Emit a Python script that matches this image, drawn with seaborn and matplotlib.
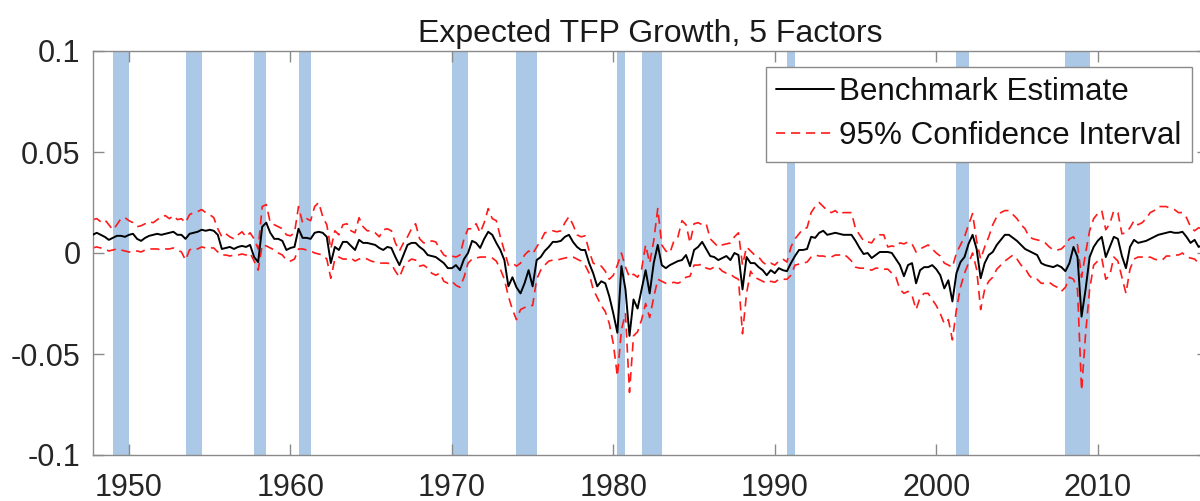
import numpy as np
import pandas as pd
import matplotlib
matplotlib.use("Agg")
import matplotlib.pyplot as plt
import seaborn as sns

# ---- data (in thousandths) ----
start_year = 1947.75  # first quarter shown
bench = [
    9, 10, 9, 8, 6.5, 7.5, 8.5, 8.5, 8, 9, 9.5, 7, 6, 7.5, 8.5, 9, 9.5, 9, 9.5, 10, 10.5,
    9, 9, 7, 9.5, 10, 10.5, 11.5, 11, 11.5, 11, 9, 2, 2.5, 3, 2, 3, 3.5, 3, 4, -2, -4.5,
    13, 15, 10, 7, 7, 6, 1.5, 2.5, 3, 12, 7.5, 7.5, 7, 10, 10.5, 10, 8, -5, 3, 1.5, 5.5,
    5.5, 3.5, 1.5, 6.5, 5, 5, 4.5, 4, 2.5, 1.5, 3, 2.5, -2, -6, -1, 4, 5, 5, 3, 1.5, -1,
    -1.5, -2, -3.5, -5, -7.5, -7.5, -6, -8.5, -3, 0, 6, 5, 2.5, 7, 10.5, 9, 5, 1.5, -3.5,
    -16.5, -12, -17, -20, -15, -8.5, -16.5, -3.5, -2, 1, 3, 5.5, 5.5, 6, 8, 9, 5.5, 3,
    1.5, 1.5, -5, -10, -16.5, -14, -15, -21.5, -30, -39.5, -6.5, -18, -41, -23, -27.5,
    -18, -8.5, -20, -5, 4, -6, -7.5, -6, -5, -4, -3.5, -1, -6.5, 1.5, 3, 5.5, 2, -1.5,
    -2, -3.5, -2.5, -1.5, -3.5, 0, -1, -18, -2, -5, -5, -7, -8.5, -11, -8.5, -10, -7.5,
    -8.5, -9, -5, -1.5, 1.5, 1.5, 2, 8, 7.5, 10, 11, 9, 9.5, 10, 9.5, 9, 9, 9, 6, 2.5,
    -0.5, 0, -2.5, -1, 0.5, 0.5, 0.5, 0, -3, -6, -11.5, -6, -5, -15, -8.5, -7, -7, -6,
    -8, -11, -17.5, -13.5, -24, -10, -4.5, -2, 4.5, 9, 2, -12.5, -5, -1, 0.5, 4, 6.5, 9,
    9, 7.5, 6, 4, 2, 1, 0, -1, -5, -6, -6.5, -7, -6, -7, -9, -5, 3, -2, -31.5, -18, -2,
    3, 6, 8, -2, 3, 8, 7, -1.5, -7.5, 3, 6.5, 5, 5.5, 6, 7, 8, 9, 9.5, 10, 10.5, 10, 10,
    10.5, 8, 5, 6.5, 3, 4,
]
upper = [
    16.5, 17, 15.5, 16.5, 14, 11.5, 14, 17, 17.5, 16, 15, 13, 13.5, 14.5, 15.5, 15, 16.5,
    18, 18.5, 17, 18.5, 16.5, 17, 15, 19, 20, 20.5, 21.5, 20, 19, 17.5, 12, 8, 9.5, 8, 7,
    9, 10.5, 8, 10, 7, 2, 23, 24, 15, 14, 13, 12, 9, 8.5, 10, 23, 15, 17, 16, 23, 25, 18,
    14, 2, 11, 9, 14, 14.5, 11, 10, 17.5, 13, 11, 11, 10, 8, 11.5, 12, 11, 5, 1, 5, 8, 12,
    14.5, 7, 5, 5, 6, 5.5, 2, -1, -2, -1.5, -2, -1, 7, 12, 12, 14.5, 10, 15, 22, 17, 16,
    8, 1, -6, -5, -6.5, -5, -1, 1, -0.5, 3, 6, 10, 10.5, 11, 10.5, 11, 15, 18, 14, 9, 8,
    8.5, 1, -5, -6, -6.5, -9, -13, -11, -6, 0, -7, -12, -10.5, -12, -8, 4, -5, 6, 22, 4,
    1, 0, 6, 8, 16, 14, 5, 14.5, 15, 14, 14.5, 7, 5, 3, 4, 4.5, 5, 8, 10, -6, 3, 1, -1,
    -2, -4.5, -6, -5, -6, -4, -3, -4.5, 3, 7, 9.5, 12, 12.5, 20, 23, 25, 23, 21, 20, 21,
    19, 20, 20, 20, 12, 9, 6, 5.5, 5, 8, 9, 9, 3, 3.5, 3, 5, 4.5, 5.5, 4.5, 0.5, 2, 3, 4,
    2, 0, -1.5, -5, -6, -7, 0, 4, 8, 14, 19.5, 6, -3, 3, 8, 14, 18, 20, 21, 21, 19, 17,
    14, 12, 8, 7, 6.5, 6, 5, 3, 1.5, 1.5, 2, 4, 7, 8, 4, -12, 0, 11, 17, 19.5, 21, 11.5,
    14.5, 21, 20, 9.5, 10, 12.5, 16, 14, 15, 17, 20, 21, 23, 23, 23, 22, 21.5, 20, 20,
    17.5, 13, 11, 12.5, 12,
]
lower = [
    2.5, 3, 2.5, 2, 1, 1.5, 2, 1.5, 1, 0.5, 0.5, 1, 0.5, 1.5, 2, 2, 2, 1.5, 2, 2, 2.5,
    1.5, 0.5, -3.5, 1.5, 2.5, 2, 3, 2.5, 2.5, 2.5, 0.5, -1, -1, -1.5, -1, -1, -0.5, -1, 0,
    -4, -8.5, 4, 3.5, 2.5, 1.5, 0, -1, -3.5, -4, -3, 2, 2, 1.5, 1, 0, -0.5, -1, -3, -12.5,
    -3, -2, -3, -3, -2.5, -4, -3, -2.5, -3, -4, -4.5, -5, -5, -5, -5.5, -9, -12, -7, -4.5,
    -3, -3.5, -6.5, -6, -7.5, -10, -11, -10, -14, -15, -14, -16, -17, -12, -5, -3, -2.5,
    -2, -2, -2, -2.5, -4, -8, -13, -21.5, -28, -33, -28, -27, -26, -26, -13, -8.5, -6, -4,
    -3.5, -3.5, -3, -2.5, -2, -2, -3, -4, -6, -10, -18, -22, -26, -29, -35, -45, -61, -38,
    -30, -69, -41, -39, -33, -25, -32, -22, -13, -14, -15, -15, -14.5, -15, -14, -12,
    -11.5, -6, -6, -5.5, -7.5, -8, -7, -7, -9, -10, -10.5, -12, -13, -40, -20, -9, -12,
    -13, -14, -15, -14, -14.5, -13, -13, -13, -11, -6, -5.5, -5, -4.5, -2, -1, -1.5, -1.5,
    -2, -2, -1, -1, -0.5, -2, -4, -7, -7.5, -7.5, -8, -8.5, -7.5, -7.5, -8, -8, -10, -12,
    -18, -20, -19, -21, -28, -22, -20, -20, -23, -26, -30, -35, -33, -43, -28, -17, -10,
    -5, 0, -8, -28, -18, -14, -12, -8, -6, -4, -2.5, -1, -3, -6, -7.5, -11, -13, -13, -15,
    -15, -14.5, -16, -17, -19, -17, -12, -13, -18, -68, -40, -18, -6, -4, -2.5, -13, -11,
    -2, -4, -12, -20, -8, -3, -2, -2, -2.5, -2, -3, -3.5, -3.5, -1.5, -1.5, -1, -1, 0, -2,
    -2.5, -3, -5, -4,
]
recession_start = [1949.0, 1953.5, 1957.75, 1960.5, 1970.0, 1974.0, 1980.25, 1981.75, 1990.75, 2001.25, 2008.0]
recession_end = [1950.0, 1954.5, 1958.5, 1961.25, 1971.0, 1975.25, 1980.75, 1983.0, 1991.25, 2002.0, 2009.5]
y_ticks = [-0.1, -0.05, 0, 0.05, 0.1]
y_tick_labels = ["-0.1", "-0.05", "0", "0.05", "0.1"]
x_ticks = [1950, 1960, 1970, 1980, 1990, 2000, 2010]
x_tick_labels = ["1950", "1960", "1970", "1980", "1990", "2000", "2010"]
title = "Expected TFP Growth, 5 Factors"
legend_labels = ["Benchmark Estimate", "95% Confidence Interval"]

# ---- build frame ----
n = len(bench)
dates = start_year + 0.25 * np.arange(n)
df = pd.DataFrame({
    "date": dates,
    "bench": np.array(bench) / 1000.0,
    "upper": np.array(upper[:n]) / 1000.0,
    "lower": np.array(lower[:n]) / 1000.0,
})

sns.set_theme(style="white")
plt.rcParams["font.family"] = ["Liberation Sans", "DejaVu Sans"]
plt.rcParams["axes.unicode_minus"] = False

W, H = 1200, 501
fig = plt.figure(figsize=(W / 100, H / 100), dpi=100)
left_px, right_px, top_px, bottom_px = 93, 1208, 51, 455
ax = fig.add_axes([left_px / W, 1 - bottom_px / H, (right_px - left_px) / W, (bottom_px - top_px) / H])

band_color = "#abc8e6"
for s, e in zip(recession_start, recession_end):
    ax.axvspan(s, e, color=band_color, lw=0, zorder=0)

sns.lineplot(data=df, x="date", y="bench", ax=ax, color="black", lw=1.4, zorder=3)
sns.lineplot(data=df, x="date", y="upper", ax=ax, color="#ff1a1a", lw=1.2, zorder=2)
sns.lineplot(data=df, x="date", y="lower", ax=ax, color="#ff1a1a", lw=1.2, zorder=2)
lines = ax.get_lines()
for ln in lines[1:3]:
    ln.set_dashes((5.5, 3.5))

x0 = 1950 + (left_px - 129) / 16.145
x1 = 1950 + (right_px - 129) / 16.145
ax.set_xlim(x0, x1)
ax.set_ylim(-0.1, 0.1)
ax.set_xticks(x_ticks)
ax.set_xticklabels(x_tick_labels)
ax.set_yticks(y_ticks)
ax.set_yticklabels(y_tick_labels)
ax.set_xlabel("")
ax.set_ylabel("")

spine_color = "#8a8a8a"
for sp in ax.spines.values():
    sp.set_color(spine_color)
    sp.set_linewidth(1.0)
ax.tick_params(axis="both", direction="in", length=8, width=1.0, color=spine_color,
               labelsize=22, labelcolor="#262626")
ax.tick_params(axis="x", top=True, bottom=True, pad=13)
ax.tick_params(axis="y", left=True, right=True, pad=9)

ax.set_title(title, fontsize=23, color="#1a1a1a", pad=6.5)

leg = ax.legend([lines[0], lines[1]], legend_labels, loc="upper right",
                bbox_to_anchor=((1192 - left_px) / (right_px - left_px), 1 - (67 - top_px) / (bottom_px - top_px)),
                fontsize=22.6, frameon=True, fancybox=False, framealpha=1,
                edgecolor="#8a8a8a", handlelength=1.85, handletextpad=0.17,
                borderpad=0.33, labelspacing=0.45, borderaxespad=0)
leg.get_frame().set_linewidth(1.0)
for t in leg.get_texts():
    t.set_color("#111111")

fig.savefig("out.png", dpi=100)
